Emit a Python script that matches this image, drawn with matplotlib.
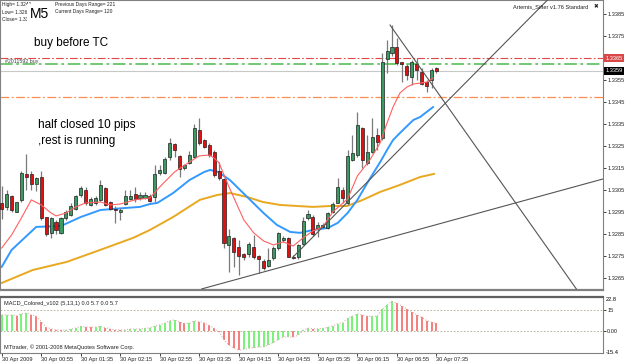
import matplotlib
matplotlib.use("Agg")
import matplotlib.pyplot as plt
import numpy as np

plt.rcParams["font.family"] = ["Liberation Sans", "DejaVu Sans"]

# 5 minute candles, 30 Apr 2009 00:15 .. 07:35
open_ = [1.32990, 1.32972, 1.33023, 1.32952, 1.33005, 1.33123, 1.33123, 1.33078, 1.33111, 1.32929,
         1.32853, 1.32906, 1.32853, 1.32921, 1.32937, 1.32963, 1.33028, 1.33050, 1.32982, 1.32990,
         1.33005, 1.33061, 1.32993, 1.32962, 1.32952, 1.32986, 1.33008, 1.33032, 1.33013, 1.33015,
         1.33023, 1.33017, 1.33129, 1.33129, 1.33202, 1.33258, 1.33205, 1.33149, 1.33172, 1.33202,
         1.33323, 1.33275, 1.33255, 1.33222, 1.33134, 1.33099, 1.32800, 1.32830, 1.32789, 1.32759,
         1.32759, 1.32789, 1.32750, 1.32728, 1.32704, 1.32739, 1.32784, 1.32824, 1.32830, 1.32745,
         1.32745, 1.32805, 1.32921, 1.32929, 1.32876, 1.32880, 1.32876, 1.32951, 1.32992, 1.33050,
         1.32989, 1.33186, 1.33209, 1.33330, 1.33171, 1.33224, 1.33300, 1.33285, 1.33644, 1.33675,
         1.33701, 1.33633, 1.33613, 1.33565, 1.33625, 1.33588, 1.33542, 1.33550, 1.33603]
high = [1.33070, 1.33050, 1.33028, 1.32997, 1.33134, 1.33212, 1.33134, 1.33111, 1.33134, 1.32929,
        1.32926, 1.32914, 1.32929, 1.32959, 1.32990, 1.33028, 1.33069, 1.33065, 1.33017, 1.33023,
        1.33096, 1.33065, 1.33002, 1.32975, 1.32967, 1.33050, 1.33050, 1.33062, 1.33043, 1.33043,
        1.33030, 1.33164, 1.33164, 1.33202, 1.33285, 1.33265, 1.33210, 1.33170, 1.33225, 1.33350,
        1.33376, 1.33280, 1.33262, 1.33230, 1.33179, 1.33103, 1.32871, 1.32837, 1.32822, 1.32765,
        1.32815, 1.32845, 1.32755, 1.32735, 1.32784, 1.32795, 1.32860, 1.32840, 1.32834, 1.32752,
        1.32805, 1.32925, 1.32960, 1.32935, 1.32905, 1.32900, 1.32951, 1.32997, 1.33103, 1.33065,
        1.33232, 1.33300, 1.33406, 1.33338, 1.33300, 1.33376, 1.33330, 1.33671, 1.33732, 1.33800,
        1.33739, 1.33633, 1.33625, 1.33641, 1.33648, 1.33603, 1.33550, 1.33603, 1.33610]
low = [1.32920, 1.32960, 1.32952, 1.32948, 1.32997, 1.33050, 1.33050, 1.33047, 1.32914, 1.32841,
       1.32831, 1.32850, 1.32850, 1.32914, 1.32930, 1.32960, 1.33020, 1.32982, 1.32975, 1.32982,
       1.33002, 1.32975, 1.32960, 1.32899, 1.32914, 1.32982, 1.33005, 1.32997, 1.33005, 1.33008,
       1.32995, 1.32997, 1.33119, 1.33123, 1.33187, 1.33202, 1.33111, 1.33140, 1.33169, 1.33195,
       1.33254, 1.33240, 1.33202, 1.33111, 1.33096, 1.32784, 1.32678, 1.32701, 1.32663, 1.32731,
       1.32747, 1.32734, 1.32671, 1.32685, 1.32698, 1.32731, 1.32777, 1.32813, 1.32743, 1.32735,
       1.32738, 1.32800, 1.32915, 1.32840, 1.32838, 1.32875, 1.32871, 1.32944, 1.32990, 1.32989,
       1.32982, 1.33183, 1.33201, 1.33148, 1.33163, 1.33216, 1.33232, 1.33277, 1.33580, 1.33660,
       1.33618, 1.33542, 1.33550, 1.33527, 1.33550, 1.33527, 1.33497, 1.33512, 1.33580]
close = [1.32963, 1.33032, 1.32960, 1.32993, 1.33129, 1.33111, 1.33078, 1.33103, 1.32921, 1.32850,
         1.32921, 1.32869, 1.32921, 1.32952, 1.32975, 1.33023, 1.33061, 1.32990, 1.33008, 1.33013,
         1.33072, 1.32982, 1.32963, 1.32959, 1.32960, 1.33023, 1.33023, 1.33008, 1.33028, 1.33028,
         1.33002, 1.33123, 1.33141, 1.33190, 1.33262, 1.33232, 1.33144, 1.33164, 1.33209, 1.33331,
         1.33262, 1.33247, 1.33210, 1.33119, 1.33103, 1.32810, 1.32840, 1.32769, 1.32750, 1.32747,
         1.32803, 1.32743, 1.32737, 1.32694, 1.32731, 1.32784, 1.32853, 1.32830, 1.32747, 1.32740,
         1.32800, 1.32910, 1.32941, 1.32850, 1.32890, 1.32890, 1.32944, 1.32986, 1.33065, 1.33012,
         1.33204, 1.33220, 1.33345, 1.33186, 1.33224, 1.33292, 1.33270, 1.33633, 1.33683, 1.33700,
         1.33626, 1.33623, 1.33573, 1.33633, 1.33595, 1.33532, 1.33523, 1.33595, 1.33592]

# moving averages at these bar positions
fast_ma_bar = [0, 2, 4, 6, 8, 10, 11, 13, 15, 17, 20, 22, 24, 27, 30, 32, 35, 38, 40, 42,
               43, 44, 46, 47, 49, 51, 53, 55, 57, 59, 61, 63, 65, 67, 70, 72, 74.5, 76.6, 78, 79.2,
               80.6, 82, 83.3, 84.7, 86.1, 87.3]
fast_ma = [1.32786, 1.32845, 1.32923, 1.33005, 1.32982, 1.32945, 1.32932, 1.32945, 1.32973, 1.32991,
           1.32995, 1.32982, 1.32986, 1.33005, 1.33014, 1.33064, 1.33132, 1.33177, 1.33205, 1.33209,
           1.33195, 1.33173, 1.33064, 1.33014, 1.32914, 1.32855, 1.32818, 1.32800, 1.32814, 1.32795,
           1.32832, 1.32864, 1.32882, 1.32950, 1.33009, 1.33114, 1.33186, 1.33264, 1.33355, 1.33427,
           1.33491, 1.33518, 1.33532, 1.33536, 1.33541, 1.33559]
mid_ma_bar = [0, 2, 7, 12, 16, 20, 25, 28, 30, 31.5, 34.7, 38, 41, 42.2, 43.8, 46.2, 49.7, 53, 55.7, 58.4,
              60.4, 63, 66, 68, 70, 72, 74, 76.6, 78, 79.2, 80.6, 83.3, 84.7, 87.3]
mid_ma = [1.32700, 1.32777, 1.32882, 1.32886, 1.32927, 1.32959, 1.32968, 1.32973, 1.32986, 1.32991,
          1.33036, 1.33095, 1.33132, 1.33141, 1.33132, 1.33095, 1.33018, 1.32945, 1.32891, 1.32859,
          1.32855, 1.32868, 1.32877, 1.32900, 1.32945, 1.33005, 1.33082, 1.33177, 1.33232, 1.33277,
          1.33309, 1.33368, 1.33382, 1.33427]
slow_ma_bar = [0, 6.3, 13.2, 19.9, 26.6, 30, 34.7, 40.1, 43.6, 46.2, 49.7, 52.9, 56.3, 59.8, 63,
               66.5, 69.9, 73.1, 76.6, 80.6, 84.7, 87.5]
slow_ma = [1.32627, 1.32686, 1.32723, 1.32777, 1.32832, 1.32868, 1.32927, 1.33005, 1.33027, 1.33036,
           1.33018, 1.32995, 1.32982, 1.32977, 1.32973, 1.32977, 1.32977, 1.33005, 1.33041, 1.33073,
           1.33109, 1.33123]

# hand drawn trend lines: (bar, price) anchors
trend_lines = [((78.6, 1.33800), (116.3, 1.32600)),
               ((58.8, 1.32741), (115.0, 1.34017)),
               ((40.5, 1.32600), (121.7, 1.33100))]

# horizontal levels
level_red = 1.33650
level_green = 1.33625
bid = 1.33592
level_orange = 1.33473

macd = [11.5, 11.5, 11.5, 11.0, 12.4, 12.9, 11.7, 10.5, 6.8, 2.8,
        1.6, 0.9, 0.7, 0.7, 1.2, 2.1, 3.3, 3.0, 2.8, 2.8,
        3.3, 2.3, 1.4, 0.9, 0.7, 0.9, 1.4, 1.4, 1.6, 1.9,
        2.3, 3.5, 4.4, 5.6, 7.3, 8.0, 6.3, 5.4, 5.4, 7.3,
        6.8, 5.9, 4.0, 2.1, -0.5, -6.6, -10.0, -12.4, -13.6, -13.1,
        -12.4, -11.9, -11.5, -11.2, -10.0, -8.2, -6.1, -4.2, -4.2, -4.4,
        -3.0, 0.5, 2.1, 1.6, 1.6, 1.9, 2.6, 3.7, 5.2, 5.9,
        9.1, 10.5, 12.2, 11.5, 10.5, 10.5, 10.5, 15.7, 18.5, 21.2,
        19.7, 18.0, 15.7, 13.8, 11.7, 9.8, 7.5, 6.3, 5.6]

price_ticks = [1.3265, 1.3275, 1.3285, 1.3295, 1.3305, 1.3315, 1.3325, 1.3335, 1.3345, 1.3355,
               1.3365, 1.3375, 1.3385]
time_tick_bars = [0, 8, 16, 24, 32, 40, 48, 56, 64, 72, 80, 88]
time_labels = ["30 Apr 2009", "30 Apr 00:55", "30 Apr 01:35", "30 Apr 02:15", "30 Apr 02:55",
               "30 Apr 03:35", "30 Apr 04:15", "30 Apr 04:55", "30 Apr 05:35", "30 Apr 06:15",
               "30 Apr 06:55", "30 Apr 07:35"]

W, H = 625, 363
TINY = 4.1


def box(l, t, r, b):
    return [l / W, 1 - b / H, (r - l) / W, (b - t) / H]


def fpos(x, y):
    return x / W, 1 - y / H


fig = plt.figure(figsize=(6.25, 3.63), dpi=100)
fig.patch.set_facecolor("white")
ax = fig.add_axes(box(0, 0, 603, 290))
mx = fig.add_axes(box(0, 297, 603, 353), sharex=ax)

bars = np.arange(len(open_))
o = np.array(open_)
c = np.array(close)
up = c >= o

# candles
ax.vlines(bars, low, high, color="#7a7a7a", lw=0.9, zorder=3)
body_lo = np.minimum(o, c)
body_h = np.maximum(np.abs(c - o), 0.00004)
ax.bar(bars, body_h, bottom=body_lo, width=0.62,
       color=np.where(up, "#3a9a62", "#e01010"), edgecolor="#202020", lw=0.5, zorder=4)

# MAs
ax.plot(slow_ma_bar, slow_ma, color="#e8a820", lw=1.4, zorder=2)
ax.plot(mid_ma_bar, mid_ma, color="#3399ff", lw=1.4, zorder=2)
ax.plot(fast_ma_bar, fast_ma, color="#ff6060", lw=0.8, zorder=5)

# levels
dashdot = (0, (7, 2, 1.5, 2))
ax.axhline(level_red, color="#e04848", lw=0.8, ls=dashdot, zorder=1)
ax.axhline(level_green, color="#66c466", lw=1.3, ls=dashdot, zorder=1)
ax.axhline(bid, color="#c8c8c8", lw=0.8, zorder=1)
ax.axhline(level_orange, color="#ff8c50", lw=0.9, ls=dashdot, zorder=1)

for (x0, y0), (x1, y1) in trend_lines:
    ax.plot([x0, x1], [y0, y1], color="#555555", lw=0.8, zorder=6)

ax.set_xlim(-0.34, 121.7)
ax.set_ylim(1.32595, 1.33914)
ax.yaxis.tick_right()
ax.set_yticks(price_ticks)
# the 1.3365 slot is covered by the red level marker
ax.set_yticklabels(["" if abs(p - level_red) < 1e-6 else f"{p:.4f}" for p in price_ticks])
ax.tick_params(axis="y", labelsize=TINY, length=2, pad=1, colors="#202020", width=0.6)
ax.tick_params(axis="x", bottom=False, labelbottom=False)
for s in ax.spines.values():
    s.set_color("#808080")
    s.set_linewidth(0.8)
ax.spines["bottom"].set_linewidth(1.6)

ax.text(1.004, level_red, "1.3365", transform=ax.get_yaxis_transform(), fontsize=TINY,
        color="white", va="center", ha="left",
        bbox=dict(boxstyle="square,pad=0.3", fc="#d84848", ec="none"))
ax.text(1.004, bid, "1.3359", transform=ax.get_yaxis_transform(), fontsize=TINY,
        color="white", va="center", ha="left",
        bbox=dict(boxstyle="square,pad=0.3", fc="black", ec="none"))
ax.text(0.008, level_green, "#2011592 buy", transform=ax.get_yaxis_transform(),
        fontsize=3.8, color="#404040", va="bottom", ha="left")

# MACD
mcol = ["#55ee55" if i > 0 and macd[i] >= macd[i - 1] else "#f25a5a" for i in range(len(macd))]
mcol[0] = "#55ee55"
mx.vlines(bars, 0, macd, colors=mcol, lw=1.1, zorder=3)
mx.plot(bars, macd, ls=":", color="#dcb0b0", lw=0.8, zorder=4)
mx.axhline(15, color="#b0a888", lw=0.6, ls=(0, (2, 2)), zorder=1)
mx.axhline(0, color="#b0a888", lw=0.6, ls=(0, (2, 2)), zorder=1)
mx.set_ylim(-15.7, 24.3)
mx.yaxis.tick_right()
mx.set_yticks([15, 0])
mx.set_yticklabels(["15", "0.00"])
mx.tick_params(axis="y", labelsize=TINY, length=2, pad=1, colors="#202020", width=0.6)
mx.set_xticks(time_tick_bars)
mx.set_xticklabels(time_labels)
mx.tick_params(axis="x", labelsize=TINY, length=2, pad=1, colors="#202020", width=0.6)
for lbl in mx.get_xticklabels():
    lbl.set_ha("left")
for s in mx.spines.values():
    s.set_color("#808080")
    s.set_linewidth(0.8)
mx.spines["top"].set_linewidth(1.6)
mx.spines["top"].set_color("#606060")
mx.text(1.004, 22.8, "22.8", transform=mx.get_yaxis_transform(), fontsize=TINY, va="center")
mx.text(1.004, -15.4, "-15.4", transform=mx.get_yaxis_transform(), fontsize=TINY, va="center")
mx.text(0.007, 0.88, "MACD_Colored_v102 (5,13,1) 0.0 5.7 0.0 5.7", transform=mx.transAxes,
        fontsize=TINY, color="#202020", va="center")
mx.text(0.007, 0.1, "MTtrader, \u00a9 2001-2008 MetaQuotes Software Corp.", transform=mx.transAxes,
        fontsize=TINY, color="#202020", va="center")

# chart annotations
small = dict(fontsize=3.5, color="#202020", va="center", ha="left")
fig.text(*fpos(2, 4.5), "High= 1.3241", **small)
fig.text(*fpos(2, 12), "Low= 1.3265", **small)
fig.text(*fpos(2, 19.5), "Close= 1.3359", **small)
fig.text(*fpos(55, 4.5), "Previous Days Range= 221", **small)
fig.text(*fpos(55, 12), "Current Days Range= 120", **small)
fig.text(*fpos(30, 13.5), "M5", fontsize=10, va="center", ha="left",
         bbox=dict(boxstyle="square,pad=0.2", fc="white", ec="none"))
fig.text(*fpos(34, 43), "buy before TC", fontsize=8.5, va="center", ha="left")
fig.text(*fpos(38, 125), "half closed 10 pips", fontsize=8.5, va="center", ha="left")
fig.text(*fpos(38, 141), ",rest is running", fontsize=8.5, va="center", ha="left")
fig.text(*fpos(513, 7), "Artemis_Sifter v1.76 Standard", fontsize=TINY, color="#202020",
         va="center", ha="left")
fig.text(*fpos(594, 7), "\u2716", fontsize=TINY, color="#202020", va="center", ha="left",
         family="DejaVu Sans")

fig.savefig("out.png", dpi=100)
